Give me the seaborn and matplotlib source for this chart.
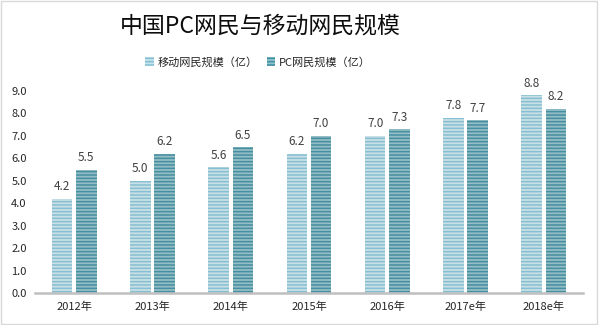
import matplotlib
matplotlib.use("Agg")
import matplotlib.pyplot as plt
import matplotlib.patches as mpatches
import seaborn as sns
import pandas as pd

years = ['2012年', '2013年', '2014年', '2015年', '2016年', '2017e年', '2018e年']
mobile = [4.2, 5.0, 5.6, 6.2, 7.0, 7.8, 8.8]
pc = [5.5, 6.2, 6.5, 7.0, 7.3, 7.7, 8.2]
series_names = ['移动网民规模（亿）', 'PC网民规模（亿）']
yticks = [0, 1, 2, 3, 4, 5, 6, 7, 8, 9]

df = pd.DataFrame({
    'year': years * 2,
    'value': mobile + pc,
    'series': [series_names[0]] * len(years) + [series_names[1]] * len(years),
})

sns.set_theme(style="white")
plt.rcParams['font.family'] = ['Noto Sans CJK SC', 'DejaVu Sans']
plt.rcParams['hatch.linewidth'] = 1.1

face = {series_names[0]: '#c4e3ec', series_names[1]: '#8cc2ce'}
hatchc = {series_names[0]: '#86bfd2', series_names[1]: '#458fa0'}

fig = plt.figure(figsize=(5.99, 3.25), dpi=100)
ax = fig.add_axes([35 / 599, 1 - 293 / 325, (583 - 35) / 599, (293 - 91) / 325])

sns.barplot(data=df, x='year', y='value', hue='series', hue_order=series_names,
            palette=face, width=0.62, gap=0.15, ax=ax, legend=False)

for container, name in zip(ax.containers, series_names):
    for bar in container:
        bar.set_hatch('-----')
        bar.set_edgecolor(hatchc[name])
        bar.set_linewidth(0)
    ax.bar_label(container, fmt='%.1f', padding=4, fontsize=8.5, color='#404040', clip_on=False)

ax.set_ylim(0, 9)
ax.set_xlim(-0.5, len(years) - 0.5)
ax.set_yticks(yticks)
ax.set_yticklabels([f'{v:.1f}' for v in yticks], fontsize=8, color='#262626')
ax.tick_params(axis='x', labelsize=8, labelcolor='#262626', length=0, pad=6)
ax.tick_params(axis='y', length=0, pad=6)
ax.set_xlabel('')
ax.set_ylabel('')
for s in ['top', 'right', 'left']:
    ax.spines[s].set_visible(False)
ax.spines['bottom'].set_color('#bfbfbf')
ax.spines['bottom'].set_linewidth(1.8)
ax.grid(False)

fig.text(260 / 599, 1 - 26 / 325, '中国PC网民与移动网民规模', ha='center', va='center',
         fontsize=16.5, color='#0d0d0d')

handles = [mpatches.Patch(facecolor=face[n], edgecolor=hatchc[n], hatch='-----', linewidth=0, label=n)
           for n in series_names]
fig.legend(handles=handles, loc='center', bbox_to_anchor=(258 / 599, 1 - 62 / 325), ncol=2,
           frameon=False, fontsize=8, handlelength=0.8, handleheight=0.8, handletextpad=0.3,
           columnspacing=0.8)

fig.patches.append(mpatches.Rectangle((0.002, 0.003), 0.995, 0.994, transform=fig.transFigure,
                                      fill=False, edgecolor='#d9d9d9', linewidth=1))

fig.savefig('out.png', dpi=100)
